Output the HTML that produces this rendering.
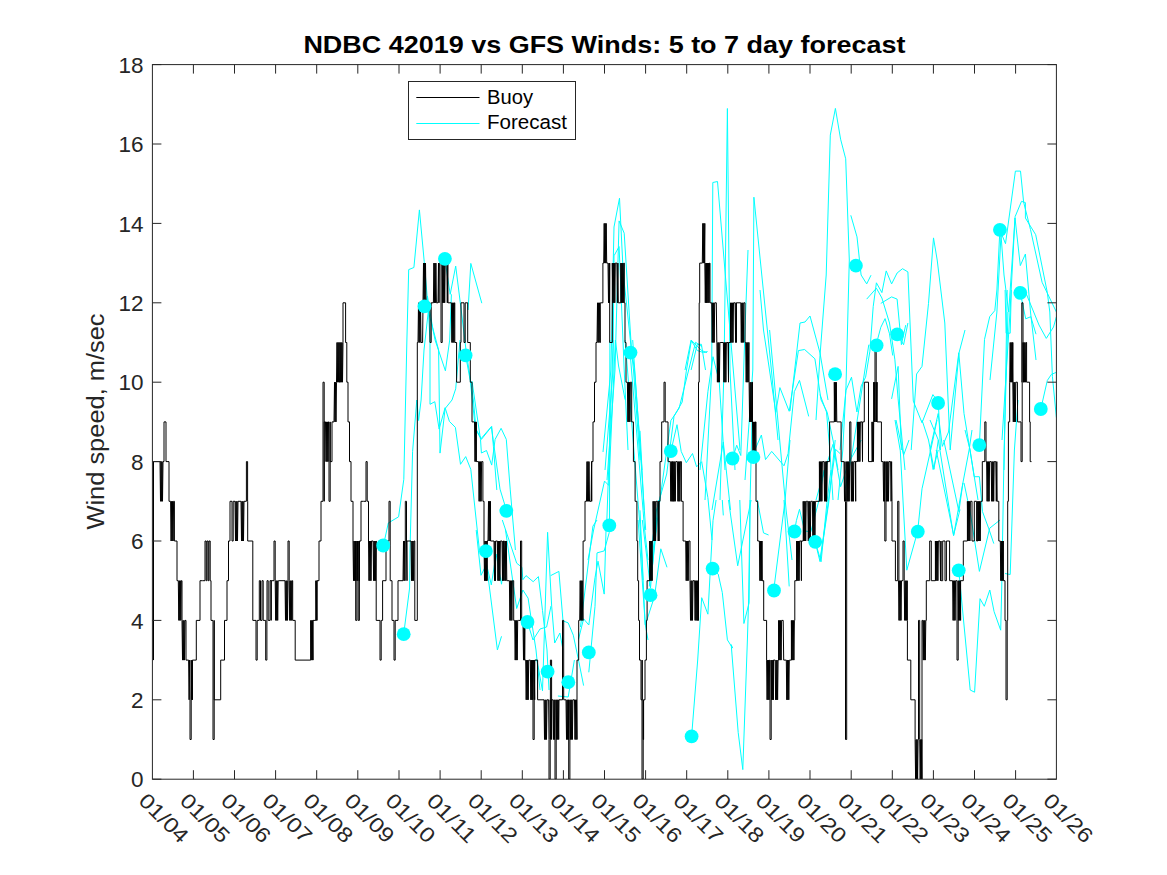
<!DOCTYPE html>
<html><head><meta charset="utf-8"><style>
html,body{margin:0;padding:0;background:#fff;}
svg{display:block;}
text{font-family:"Liberation Sans",sans-serif;}
</style></head><body>
<svg width="1167" height="875" viewBox="0 0 1167 875">
<rect width="1167" height="875" fill="#fff"/>
<defs><clipPath id="pa"><rect x="152.4" y="64.6" width="904" height="714.6"/></clipPath></defs>
<g fill="none" stroke-linejoin="miter" clip-path="url(#pa)">
<path d="M383.4 545.6L388.3 523.0L398.6 516.8L403.8 479.3L406.9 340.0L408.7 269.6L413.9 267.5L419.4 209.9L424.2 261.3L428.3 310.0L430.0 340.0L430.0 404.3L434.8 401.7L439.1 429.1L445.1 407.7L449.4 421.4L455.4 427.4L460.5 464.3L465.7 456.6L470.8 469.4L479.4 550.0M403.7 634.2L409.6 588.0L410.0 550.0L412.6 451.4L416.8 400.0L418.6 420.6L421.1 400.0L424.0 350.0L428.3 311.4L438.6 350.0L440.0 453.1L445.1 408.6L452.0 400.0L455.7 388.8L460.0 340.0M424.5 306.3L427.4 296.0L433.0 330.0L435.1 340.0L445.4 370.8L449.7 340.0L451.4 294.3M444.9 258.8L450.2 294.3L455.7 266.1L461.2 310.0L466.0 350.0L473.4 400.0L476.0 429.1L481.1 438.6L491.4 426.6L493.1 439.4L500.0 489.1L506.8 511.4M465.6 355.4L470.3 381.0L475.4 429.0L481.4 439.4L491.7 426.5L493.4 446.3L496.8 490.0M468.1 310.0L470.8 263.4L481.8 303.2M472.0 381.0L480.5 439.4L481.4 453.0L486.5 450.5L491.7 465.1L495.1 439.4L501.1 428.3L506.3 439.4L510.2 489.1L515.4 550.0M476.2 530.0L481.0 575.3L486.5 564.3L491.3 584.9L496.1 554.0L501.5 584.2L506.4 546.5M486.5 564.3L497.4 650.0L501.5 636.3M502.3 520.0L516.7 563.2L521.9 567.3L522.9 579.7L526.0 575.6L533.2 581.7L538.4 576.6L542.5 610.5L547.0 650.0L549.0 690.0M505.4 529.3L516.7 608.5L522.9 590.0L528.1 598.2L531.2 618.8L536.0 650.0L540.0 690.0M527.0 620.8L533.0 640.0L540.0 629.0L546.6 627.0L551.0 606.0M532.0 661.0L537.0 660.0L542.5 690.8L547.6 532.3L551.7 606.4L554.7 643.0L559.9 633.0L563.0 650.0M550.7 575.6L558.9 571.4L563.0 620.8L568.2 622.9L573.3 635.2L578.5 660.0L583.6 685.6M557.9 696.0L568.2 697.0L574.4 660.0M578.5 639.3L583.6 618.8L588.8 625.0L595.0 577.6L598.0 561.2L604.2 594.1L606.3 520.0M588.8 672.3L595.0 606.4L597.0 552.9L604.2 550.9L609.3 532.3M580.5 627.0L592.9 526.2L597.0 520.0M638.1 520.0L645.3 625.0L654.6 596.1L660.8 548.8L667.0 567.3M642.3 520.0L650.5 587.9L656.7 520.0M603.0 452.0L610.9 370.0L614.0 227.0L619.5 198.2L623.2 272.3L633.5 370.0L640.0 460.0M605.0 470.0L613.0 370.0L614.0 255.8L619.1 246.6L624.2 370.0L628.0 450.0M607.0 480.0L615.0 370.0L619.1 220.9L624.2 233.2L631.4 348.4L634.5 370.0L642.0 470.0M685.0 370.0L691.1 340.2L697.3 350.5L703.5 352.6L707.6 351.5M691.1 370.0L697.3 344.3L701.4 344.3L705.5 370.0M705.0 500.0L711.7 370.0L712.8 182.5L717.5 181.5L733.3 370.0L740.0 450.0M720.0 500.0L724.0 370.0L727.4 108.5L730.0 370.0L735.0 470.0M745.0 480.0L752.8 370.0L753.9 197.2L771.4 370.0L778.0 440.0M650.0 560.0L656.5 510.0L666.7 474.0L674.0 416.4L682.2 402.0L686.3 371.2L691.4 340.3L701.7 350.6L706.9 352.6M652.0 570.0L658.5 510.0L670.9 420.5L679.1 408.2L695.6 342.3L701.7 346.5M670.9 451.4L677.0 424.7L681.2 451.4L686.3 462.7L692.5 453.5L696.6 466.8L701.7 461.7L707.9 497.7L712.0 540.0M700.0 470.0L707.9 391.7L713.0 356.7L719.2 381.4L725.0 470.0M712.0 510.0L723.3 442.1L730.5 510.0M732.6 458.6L736.7 445.2L740.8 455.5L745.0 330.0L748.0 250.0M753.2 457.6L754.2 451.4L761.4 435.0L765.5 459.6L771.7 451.4L784.0 465.8L788.1 453.5L794.3 391.7L799.5 380.4L808.7 416.4M760.0 290.0L763.5 330.0L775.8 412.3L779.9 387.6L789.2 411.3L798.4 350.6L804.6 349.5L814.9 358.8L821.1 400.0L827.2 412.3L833.4 442.1L838.0 470.0M790.0 411.0L800.0 323.0L805.0 322.0L810.0 316.0L820.0 353.0L828.0 400.0M769.6 330.0L786.1 510.0L792.0 560.0M820.0 560.0L827.2 510.0L835.5 449.3L840.0 453.5M640.0 430.8L644.1 510.0M640.0 510.3L645.1 623.5L648.0 640.0M658.5 500.0L649.3 586.4M712.4 568.5L718.2 574.1L722.3 592.6L727.4 639.9L732.6 648.1L731.2 644.6L738.2 732.5L742.8 769.6L747.4 640.0L748.6 600.0L750.1 500.0L752.0 420.0M691.6 736.4L697.7 660.0L701.7 597.7L707.9 614.2L713.0 520.6L716.1 500.0M722.3 500.0L723.3 515.4M728.5 500.0L737.7 565.8L751.1 500.0M739.8 500.0L743.9 623.5L749.1 602.9L750.1 500.0M757.3 500.0L763.5 532.9L768.6 535.0M773.7 590.5L785.1 500.0L790.0 440.0M784.0 500.0L789.2 586.4M794.5 531.5L796.4 520.6L799.5 509.3L804.6 530.9L810.8 531.9L819.0 500.0L824.0 470.0M815.2 541.8L821.1 561.7L827.2 500.0L831.0 470.0M609.5 524.5L609.9 340.0M606.7 524.5L613.2 340.0M588.0 560.0L593.6 530.0L604.5 481.1L608.8 485.4L615.4 340.0L618.6 366.0L625.1 399.7M629.9 350.4L644.7 530.0L648.0 560.0M632.7 340.0L645.7 530.0M625.1 340.0L640.3 530.0L643.0 580.0M816.0 420.0L820.0 355.5L826.2 275.0L830.3 135.1L835.4 108.4L840.6 139.2L845.7 158.8L849.3 260.0L846.0 385.9L842.8 450.0L838.0 500.0M820.0 394.6L826.5 412.0L829.8 450.0L833.0 500.0M850.8 215.3L857.0 236.9L861.1 275.0L866.7 283.9L871.0 275.2M840.0 450.0L846.0 390.2L851.5 377.2L856.9 412.0L861.2 385.9L865.6 377.2L869.9 351.2L873.2 306.7L876.4 282.8L881.9 292.6L886.2 270.9L891.6 283.9L897.1 273.0L902.5 268.7L907.9 271.9L913.3 401.1L922.0 422.8L932.9 394.6L938.3 402.2M876.0 345.3L880.8 327.3L885.1 318.6L889.5 333.8L892.7 355.5M866.7 299.1L876.4 288.2L881.9 298.0L889.5 323.0L894.9 359.8L898.1 398.9L905.0 470.0M880.8 303.4L891.6 296.9L897.1 299.1L901.4 344.7L905.7 325.1M897.2 334.3L903.6 344.7L907.9 323.0M845.0 490.0L852.6 450.0L868.8 344.7M891.6 398.9L898.1 366.4L901.4 450.0M911.2 450.0L916.6 374.0L922.0 366.4L928.5 303.4L933.5 237.9L937.2 260.0L944.8 323.0L950.2 450.0L958.9 353.3L965.0 330.0M938.3 402.2L940.5 450.0M930.0 449.5L938.2 413.5L942.3 446.4L948.5 432.0L958.8 352.8L964.0 413.5L973.2 470.0L978.0 500.0M979.4 444.7L984.5 339.4L989.7 316.7L994.8 310.6L996.9 290.0L999.9 229.8L1005.5 243.7L1015.4 171.1L1020.5 171.1L1023.6 202.0L1030.5 229.6L1042.1 282.3L1056.4 312.0M1004.0 470.0L1007.2 290.0M1005.1 290.0L1006.1 333.2L1010.2 333.2L1011.3 290.0M990.0 380.0L996.9 312.0L1001.0 234.8L1004.0 275.0L1008.7 312.0L1015.1 216.7L1021.5 201.3L1025.4 202.6L1025.4 218.0L1035.7 234.7L1047.3 292.5L1049.8 312.0L1052.4 376.4L1056.4 417.6M1002.0 440.0L1010.0 312.0L1015.0 218.0L1020.3 265.6L1025.4 254.0L1030.5 312.0L1036.0 360.0M1020.3 292.8L1025.7 318.8L1030.8 316.7L1036.0 334.2M1024.7 290.0L1039.0 325.0L1046.3 338.4L1053.5 327.0L1056.4 316.7M1040.8 409.0L1047.3 380.5L1051.4 374.4L1056.4 372.3M815.2 541.8L820.0 561.6L828.7 503.0L835.2 440.0M816.0 500.0L820.0 485.6L833.0 444.3L840.6 486.7L848.2 463.9L861.2 440.0M896.0 420.0L900.3 440.0L903.6 455.2L909.0 440.0M895.0 420.0L900.3 450.9L906.8 570.2L917.7 531.2L922.0 488.8L932.9 440.0L937.0 420.0M922.0 420.0L928.5 440.0L934.0 469.3L938.3 440.0M930.0 420.0L938.3 440.0L953.5 535.5L960.0 509.5M943.7 440.0L958.9 511.6L962.9 482.9L969.1 450.0L972.0 430.0M930.0 450.0L933.1 469.5L938.2 450.0M936.2 450.0L953.7 535.4L962.9 482.9M965.0 430.0L970.1 450.0L974.2 476.7L979.4 476.7L982.5 511.7L988.6 528.2L993.8 543.6M964.0 482.9L970.1 511.7L979.4 571.4L989.7 528.2L1000.0 520.0M958.8 570.4L970.2 690.0L974.6 692.2L980.0 598.7L984.3 606.3L989.8 590.0L994.1 611.7L1000.7 630.2L1001.7 590.0L1004.1 450.0L1008.0 312.0M1005.1 573.5L1010.2 574.5L1014.4 450.0L1018.0 400.0" stroke="#00ffff" stroke-width="1"/>
<path d="M153.5 660.1L153.5 461.6L155.0 461.6L155.0 461.6L160.0 461.6L160.0 461.6L160.5 501.3L161.0 461.6L161.5 501.3L162.0 461.6L162.5 501.3L163.0 461.6L164.0 461.6L164.0 461.6L164.0 421.9L166.0 421.9L166.0 461.6L169.0 461.6L169.0 501.3L170.6 501.3L170.6 501.3L171.1 541.0L171.6 501.3L172.1 541.0L172.6 501.3L173.1 541.0L173.6 501.3L174.4 501.3L174.4 501.3L174.4 541.0L177.0 541.0L177.0 580.7L178.3 580.7L178.3 580.7L178.8 620.4L179.3 580.7L179.8 620.4L180.3 580.7L180.8 620.4L181.3 580.7L182.0 580.7L182.0 580.7L182.0 620.4L182.5 660.1L183.0 620.4L183.5 660.1L184.0 620.4L184.5 660.1L185.0 620.4L186.0 620.4L186.0 620.4L186.0 660.1L188.6 660.1L188.6 660.1L189.1 699.8L189.6 660.1L190.0 699.8L190.0 739.5L191.2 739.5L191.2 699.8L191.2 660.1L191.7 699.8L192.2 660.1L192.4 699.8L192.4 660.1L196.3 660.1L196.3 620.4L200.0 620.4L200.0 580.7L202.7 580.7L202.7 580.7L205.0 580.7L205.0 541.0L206.2 541.0L206.2 580.7L206.2 580.7L207.0 580.7L207.0 541.0L208.2 541.0L208.2 580.7L208.2 580.7L209.0 580.7L209.0 541.0L210.2 541.0L210.2 580.7L210.2 580.7L211.0 580.7L211.0 620.4L213.0 620.4L213.0 739.5L214.2 739.5L214.2 620.4L214.2 699.8L220.7 699.8L220.7 660.1L224.5 660.1L224.5 620.4L227.0 620.4L227.0 580.7L228.5 580.7L228.5 541.0L230.0 541.0L230.0 501.3L232.0 501.3L232.0 541.0L233.2 541.0L233.2 501.3L233.2 501.3L235.0 501.3L235.0 501.3L235.5 541.0L236.0 501.3L236.5 541.0L237.0 501.3L237.5 541.0L238.0 501.3L238.0 501.3L241.0 501.3L241.0 501.3L241.5 541.0L242.0 501.3L242.5 541.0L243.0 501.3L243.5 541.0L244.0 501.3L244.0 501.3L246.4 501.3L246.4 461.6L247.6 461.6L247.6 501.3L247.6 501.3L247.7 501.3L247.7 541.0L252.8 541.0L252.8 620.4L256.0 620.4L256.0 660.1L257.2 660.1L257.2 620.4L257.2 620.4L259.3 620.4L259.3 580.7L260.5 580.7L260.5 620.4L260.5 620.4L262.0 620.4L262.0 580.7L263.2 580.7L263.2 620.4L263.2 620.4L265.7 620.4L265.7 660.1L266.9 660.1L266.9 620.4L266.9 620.4L267.0 620.4L267.0 580.7L268.2 580.7L268.2 620.4L268.2 620.4L270.0 620.4L270.0 580.7L271.2 580.7L271.2 620.4L271.2 580.7L274.0 580.7L274.0 541.0L275.2 541.0L275.2 580.7L275.2 580.7L275.7 620.4L276.2 580.7L276.7 620.4L277.2 580.7L277.7 620.4L278.2 580.7L278.5 580.7L278.5 580.7L278.5 580.7L285.0 580.7L285.0 580.7L285.5 620.4L286.0 580.7L286.5 620.4L287.0 580.7L287.5 620.4L288.0 580.7L288.0 541.0L289.2 541.0L289.2 580.7L289.2 580.7L289.7 620.4L290.2 580.7L290.7 620.4L291.2 580.7L291.7 620.4L292.2 580.7L292.7 580.7L292.7 580.7L292.7 620.4L295.2 620.4L295.2 660.1L310.7 660.1L310.7 620.4L311.2 660.1L311.7 620.4L312.2 660.1L312.7 620.4L313.0 660.1L313.0 620.4L315.8 620.4L315.8 580.7L316.3 620.4L316.8 580.7L317.0 620.4L317.0 580.7L319.0 580.7L319.0 541.0L321.0 541.0L321.0 501.3L323.0 501.3L323.0 382.2L324.2 382.2L324.2 501.3L324.2 421.9L325.5 421.9L325.5 421.9L326.0 461.6L326.5 421.9L327.0 461.6L327.5 421.9L328.0 461.6L328.5 421.9L329.0 421.9L329.0 421.9L329.0 501.3L330.2 501.3L330.2 421.9L330.2 461.6L332.0 461.6L332.0 421.9L334.0 421.9L334.0 421.9L334.5 382.2L335.0 421.9L335.5 382.2L336.0 421.9L336.5 382.2L336.5 382.2L337.0 342.5L337.5 382.2L338.0 342.5L338.5 382.2L339.0 342.5L339.5 382.2L340.0 382.2L340.0 382.2L340.0 342.5L340.5 382.2L341.0 342.5L341.5 382.2L342.0 342.5L342.5 382.2L343.0 342.5L343.0 302.8L345.6 302.8L345.6 342.5L346.8 342.5L346.8 382.2L348.0 382.2L348.0 421.9L349.5 421.9L349.5 461.6L351.0 461.6L351.0 501.3L353.0 501.3L353.0 541.0L353.5 580.7L354.0 541.0L354.5 580.7L355.0 541.0L355.5 580.7L355.7 541.0L355.7 620.4L356.9 620.4L356.9 541.0L356.9 580.7L357.4 541.0L357.9 580.7L358.2 541.0L358.2 620.4L359.4 620.4L359.4 541.0L359.4 580.7L359.5 580.7L359.5 541.0L361.0 541.0L361.0 501.3L363.4 501.3L363.4 501.3L366.0 501.3L366.0 461.6L367.2 461.6L367.2 501.3L367.2 501.3L368.5 501.3L368.5 541.0L369.0 580.7L369.5 541.0L370.0 580.7L370.5 541.0L371.0 580.7L371.5 541.0L373.1 541.0L373.1 541.0L373.6 580.7L374.1 541.0L374.6 580.7L375.1 541.0L375.6 580.7L376.1 541.0L376.2 541.0L376.2 541.0L376.2 620.4L380.0 620.4L380.0 660.1L381.2 660.1L381.2 620.4L381.2 620.4L382.6 620.4L382.6 580.7L386.0 580.7L386.0 541.0L389.0 541.0L389.0 501.3L390.2 501.3L390.2 541.0L390.2 580.7L392.0 580.7L392.0 620.4L394.0 620.4L394.0 660.1L395.2 660.1L395.2 620.4L395.2 620.4L398.0 620.4L398.0 580.7L403.0 580.7L403.0 580.7L403.5 541.0L404.0 580.7L404.5 541.0L405.0 580.7L405.3 541.0L405.3 501.3L406.5 501.3L406.5 541.0L406.5 541.0L407.0 580.7L407.0 541.0L411.0 541.0L411.0 541.0L411.5 580.7L412.0 541.0L412.5 580.7L413.0 541.0L413.5 580.7L414.0 541.0L414.8 541.0L414.8 541.0L414.8 620.4L417.3 620.4L417.3 342.5L418.0 342.5L418.0 342.5L418.5 302.8L419.0 342.5L419.5 302.8L420.0 342.5L420.5 302.8L421.0 342.5L422.6 342.5L422.6 342.5L423.0 302.8L423.0 302.8L423.5 263.1L424.0 302.8L424.5 263.1L425.0 302.8L425.5 263.1L426.0 302.8L427.4 302.8L427.4 302.8L427.4 302.8L430.0 302.8L430.0 342.5L431.2 342.5L431.2 302.8L431.2 302.8L433.4 302.8L433.4 302.8L433.9 263.1L434.4 302.8L434.9 263.1L435.4 302.8L435.9 263.1L436.4 302.8L438.0 302.8L438.0 302.8L438.5 263.1L439.0 302.8L439.4 263.1L439.4 263.1L441.0 263.1L441.0 342.5L442.2 342.5L442.2 263.1L442.2 263.1L442.7 302.8L443.2 263.1L443.7 302.8L444.2 263.1L444.7 302.8L445.2 263.1L446.8 263.1L446.8 263.1L447.3 302.8L447.8 263.1L448.0 302.8L448.0 302.8L451.4 302.8L451.4 302.8L451.9 342.5L452.4 302.8L452.9 342.5L453.4 302.8L453.9 342.5L454.4 302.8L454.8 302.8L454.8 302.8L454.8 342.5L456.6 342.5L456.6 382.2L460.3 382.2L460.3 342.5L461.0 342.5L461.0 302.8L464.0 302.8L464.0 342.5L465.2 342.5L465.2 302.8L465.2 302.8L467.7 302.8L467.7 342.5L470.3 342.5L470.3 382.2L472.0 382.2L472.0 421.9L474.5 421.9L474.5 421.9L475.0 461.6L475.5 421.9L476.0 461.6L476.3 421.9L476.3 461.6L478.6 461.6L478.6 461.6L479.1 501.3L479.6 461.6L480.1 501.3L480.6 461.6L481.1 501.3L481.6 461.6L482.9 461.6L482.9 461.6L482.9 501.3L484.0 501.3L484.0 541.0L484.5 580.7L485.0 541.0L485.5 580.7L486.0 541.0L486.5 580.7L487.0 541.0L487.1 580.7L487.1 541.0L488.0 541.0L488.0 541.0L488.5 501.3L489.0 541.0L489.5 501.3L490.0 541.0L490.5 501.3L490.6 541.0L490.6 541.0L494.0 541.0L494.0 541.0L494.5 580.7L495.0 541.0L495.5 580.7L495.7 541.0L495.7 541.0L497.4 541.0L497.4 541.0L497.9 580.7L498.4 541.0L498.9 580.7L499.4 541.0L499.9 580.7L500.4 541.0L502.0 541.0L502.0 541.0L502.5 580.7L503.0 541.0L503.4 580.7L503.4 541.0L504.3 541.0L504.3 541.0L504.8 580.7L505.3 541.0L505.8 580.7L506.3 541.0L506.8 580.7L506.8 580.7L509.4 580.7L509.4 580.7L509.9 620.4L510.4 580.7L510.9 620.4L511.4 580.7L511.9 620.4L512.4 580.7L513.7 580.7L513.7 580.7L513.7 620.4L514.7 620.4L514.7 620.4L515.2 660.1L515.7 620.4L516.2 660.1L516.7 620.4L517.2 660.1L517.7 620.4L518.4 620.4L518.4 620.4L518.4 620.4L520.5 620.4L520.5 541.0L521.7 541.0L521.7 620.4L521.7 620.4L523.0 620.4L523.0 620.4L523.5 660.1L524.0 620.4L524.5 660.1L524.8 620.4L524.8 660.1L525.7 660.1L525.7 660.1L526.2 699.8L526.7 660.1L527.2 699.8L527.7 660.1L528.2 699.8L528.7 660.1L530.3 660.1L530.3 660.1L530.8 699.8L531.3 660.1L531.8 699.8L532.3 660.1L532.8 699.8L533.3 660.1L533.0 699.8L533.0 739.5L534.2 739.5L534.2 699.8L534.2 660.1L534.7 699.8L534.8 660.1L534.8 660.1L537.6 660.1L537.6 699.8L544.0 699.8L544.0 699.8L544.5 739.5L545.0 699.8L545.5 739.5L546.0 699.8L546.5 739.5L547.0 699.8L548.6 699.8L548.6 699.8L549.0 739.5L549.0 779.2L550.2 779.2L550.2 739.5L550.2 699.8L550.4 739.5L550.4 660.1L551.6 660.1L551.6 739.5L551.6 699.8L553.0 699.8L553.0 699.8L553.5 739.5L554.0 699.8L554.5 739.5L555.0 699.8L555.0 779.2L556.2 779.2L556.2 699.8L556.2 699.8L556.7 739.5L557.2 699.8L557.7 739.5L558.2 699.8L558.7 739.5L559.0 699.8L559.0 699.8L562.5 699.8L562.5 620.4L563.7 620.4L563.7 699.8L563.7 699.8L566.0 699.8L566.0 699.8L566.5 739.5L567.0 699.8L567.5 739.5L568.0 699.8L568.5 739.5L568.7 699.8L568.7 779.2L569.9 779.2L569.9 699.8L569.9 699.8L570.4 739.5L570.9 699.8L571.4 739.5L571.9 699.8L572.4 739.5L572.9 699.8L574.5 699.8L574.5 699.8L575.0 739.5L575.5 699.8L576.0 739.5L576.5 699.8L577.0 739.5L577.0 660.1L578.7 660.1L578.7 620.4L579.7 620.4L579.7 620.4L580.2 580.7L580.7 620.4L581.2 580.7L581.7 620.4L582.2 580.7L582.7 620.4L583.1 620.4L583.1 620.4L583.1 541.0L585.0 541.0L585.0 501.3L586.5 501.3L586.5 501.3L587.0 461.6L587.5 501.3L588.0 461.6L588.5 501.3L589.0 461.6L589.5 501.3L591.1 501.3L591.1 501.3L591.6 461.6L591.7 501.3L591.7 461.6L593.0 461.6L593.0 421.9L594.5 421.9L594.5 382.2L596.0 382.2L596.0 342.5L597.0 342.5L597.0 342.5L597.5 302.8L598.0 342.5L598.5 302.8L599.0 342.5L599.5 302.8L600.0 342.5L600.3 342.5L600.3 342.5L600.3 302.8L602.9 302.8L602.9 263.1L603.7 263.1L603.7 263.1L604.2 223.4L604.7 263.1L605.2 223.4L605.7 263.1L606.2 223.4L606.7 263.1L607.1 263.1L607.1 263.1L607.1 263.1L608.0 263.1L608.0 263.1L608.5 302.8L609.0 263.1L609.5 302.8L609.7 263.1L609.7 342.5L612.3 342.5L612.3 263.1L612.8 302.8L613.3 263.1L613.8 302.8L614.3 263.1L614.8 302.8L615.3 263.1L616.9 263.1L616.9 263.1L617.4 302.8L617.9 263.1L618.3 302.8L618.3 302.8L620.8 302.8L620.8 263.1L621.3 302.8L621.8 263.1L622.3 302.8L622.8 263.1L623.3 302.8L623.8 263.1L624.3 263.1L624.3 263.1L624.3 302.8L625.0 302.8L625.0 342.5L626.0 342.5L626.0 382.2L627.4 382.2L627.4 382.2L627.9 421.9L628.4 382.2L628.9 421.9L629.4 382.2L629.9 421.9L630.4 382.2L631.7 382.2L631.7 382.2L631.7 421.9L633.4 421.9L633.4 461.6L635.1 461.6L635.1 501.3L636.9 501.3L636.9 541.0L637.7 541.0L637.7 580.7L638.6 580.7L638.6 620.4L639.5 620.4L639.5 660.1L641.0 660.1L641.0 699.8L642.2 699.8L642.2 660.1L642.2 699.8L642.0 699.8L642.0 779.2L643.2 779.2L643.2 699.8L643.2 739.5L643.6 739.5L643.6 699.8L645.0 699.8L645.0 660.1L646.4 660.1L646.4 620.4L647.1 620.4L647.1 580.7L649.7 580.7L649.7 541.0L650.2 580.7L650.7 541.0L651.2 580.7L651.7 541.0L652.2 580.7L652.3 541.0L652.3 541.0L653.1 541.0L653.1 501.3L653.6 541.0L654.1 501.3L654.6 541.0L655.1 501.3L655.6 541.0L656.1 501.3L657.7 501.3L657.7 501.3L658.2 541.0L658.7 501.3L659.1 541.0L659.1 501.3L660.0 501.3L660.0 461.6L661.7 461.6L661.7 421.9L664.0 421.9L664.0 382.2L665.2 382.2L665.2 421.9L665.2 421.9L668.0 421.9L668.0 461.6L668.5 461.6L668.5 461.6L670.3 461.6L670.3 461.6L670.8 501.3L671.3 461.6L671.8 501.3L672.3 461.6L672.8 501.3L672.8 461.6L673.3 501.3L673.8 461.6L674.3 501.3L674.8 461.6L675.3 501.3L675.8 461.6L677.4 461.6L677.4 461.6L677.9 501.3L678.4 461.6L678.9 501.3L679.4 461.6L679.9 501.3L680.4 461.6L681.4 461.6L681.4 461.6L681.4 501.3L683.1 501.3L683.1 541.0L684.8 541.0L684.8 541.0L685.7 541.0L685.7 541.0L686.2 580.7L686.7 541.0L687.2 580.7L687.7 541.0L688.2 580.7L688.7 541.0L690.0 541.0L690.0 541.0L690.0 580.7L690.5 620.4L691.0 580.7L691.5 620.4L692.0 580.7L692.5 620.4L693.0 580.7L694.6 580.7L694.6 580.7L695.1 620.4L695.6 580.7L696.1 620.4L696.6 580.7L697.1 620.4L697.6 580.7L697.7 580.7L697.7 580.7L697.7 620.4L698.5 620.4L698.5 382.2L699.2 382.2L699.2 302.8L699.7 302.8L699.7 263.1L702.3 263.1L702.3 263.1L702.8 223.4L703.3 263.1L703.8 223.4L704.3 263.1L704.8 223.4L704.8 263.1L705.3 302.8L705.8 263.1L706.3 302.8L706.5 263.1L706.5 263.1L707.0 302.8L707.5 263.1L708.0 302.8L708.5 263.1L709.0 302.8L709.5 263.1L710.0 263.1L710.0 263.1L710.0 302.8L711.7 302.8L711.7 302.8L712.2 342.5L712.7 302.8L713.2 342.5L713.7 302.8L714.2 342.5L714.7 302.8L716.3 302.8L716.3 302.8L716.8 342.5L716.8 342.5L716.9 342.5L716.9 342.5L717.4 382.2L717.9 342.5L718.4 382.2L718.9 342.5L719.4 382.2L719.9 342.5L720.2 342.5L720.2 342.5L720.2 342.5L723.4 342.5L723.4 342.5L723.9 382.2L724.4 342.5L724.9 382.2L725.4 342.5L725.9 382.2L726.4 342.5L728.0 342.5L728.0 342.5L728.5 382.2L728.5 342.5L730.5 342.5L730.5 302.8L731.0 342.5L731.5 302.8L732.0 342.5L732.5 302.8L733.0 342.5L733.5 302.8L735.1 302.8L735.1 302.8L735.6 342.5L736.1 302.8L736.4 342.5L736.4 302.8L740.8 302.8L740.8 302.8L741.3 342.5L741.8 302.8L742.3 342.5L742.8 302.8L743.3 342.5L743.8 302.8L745.0 302.8L745.0 302.8L745.0 342.5L745.7 342.5L745.7 342.5L746.2 382.2L746.7 342.5L747.2 382.2L747.7 342.5L748.2 382.2L748.7 342.5L749.1 342.5L749.1 342.5L749.1 382.2L749.6 421.9L750.1 382.2L750.6 421.9L751.1 382.2L751.6 421.9L752.1 382.2L752.5 382.2L752.5 382.2L752.5 421.9L753.0 461.6L753.5 421.9L754.0 461.6L754.5 421.9L755.0 461.6L755.5 421.9L756.0 421.9L756.0 421.9L756.0 501.3L757.7 501.3L757.7 541.0L759.4 541.0L759.4 541.0L759.9 580.7L760.4 541.0L760.9 580.7L761.4 541.0L761.9 580.7L762.0 541.0L762.0 580.7L763.7 580.7L763.7 620.4L766.6 620.4L766.6 660.1L767.1 699.8L767.6 660.1L768.1 699.8L768.6 660.1L769.1 699.8L769.6 660.1L770.0 660.1L770.0 660.1L770.0 739.5L771.2 739.5L771.2 660.1L771.2 660.1L771.7 699.8L772.2 660.1L772.7 699.8L773.2 660.1L773.4 699.8L773.4 660.1L775.1 660.1L775.1 660.1L775.6 699.8L776.1 660.1L776.6 699.8L777.1 660.1L777.6 699.8L778.1 660.1L778.6 660.1L778.6 660.1L778.6 620.4L779.1 660.1L779.6 620.4L780.1 660.1L780.6 620.4L781.1 660.1L781.6 620.4L783.2 620.4L783.2 620.4L783.7 660.1L783.7 660.1L786.3 660.1L786.3 660.1L786.8 699.8L787.3 660.1L787.8 699.8L788.3 660.1L788.8 699.8L789.3 660.1L789.7 660.1L789.7 660.1L789.7 660.1L791.4 660.1L791.4 620.4L791.9 660.1L792.4 620.4L792.9 660.1L793.4 620.4L793.9 660.1L794.4 620.4L794.8 620.4L794.8 620.4L794.8 580.7L796.6 580.7L796.6 541.0L797.1 580.7L797.6 541.0L798.1 580.7L798.6 541.0L799.1 580.7L799.6 541.0L801.2 541.0L801.2 541.0L801.4 580.7L801.4 541.0L803.2 541.0L803.2 501.3L803.7 541.0L804.2 501.3L804.7 541.0L805.2 501.3L805.7 541.0L806.2 501.3L807.8 501.3L807.8 501.3L808.3 541.0L808.8 501.3L809.3 541.0L809.8 501.3L810.3 541.0L810.8 501.3L812.4 501.3L812.4 501.3L812.9 541.0L813.4 501.3L813.9 541.0L814.4 501.3L814.9 541.0L815.4 501.3L815.8 501.3L815.8 501.3L815.8 501.3L819.4 501.3L819.4 461.6L819.9 501.3L820.4 461.6L820.9 501.3L821.4 461.6L821.9 501.3L822.4 461.6L824.0 461.6L824.0 461.6L824.5 501.3L825.0 461.6L825.5 501.3L826.0 461.6L826.5 501.3L827.0 461.6L826.6 501.3L826.6 461.6L829.6 461.6L829.6 421.9L830.8 421.9L830.8 421.9L834.3 421.9L834.3 382.2L834.8 421.9L835.3 382.2L835.8 421.9L836.3 382.2L836.8 421.9L836.8 421.9L841.1 421.9L841.1 461.6L844.0 461.6L844.0 461.6L844.5 501.3L845.0 461.6L845.5 501.3L845.5 739.5L846.7 739.5L846.7 501.3L846.7 461.6L847.2 501.3L847.7 461.6L848.2 501.3L848.7 461.6L849.2 501.3L849.7 461.6L849.7 421.9L850.9 421.9L850.9 461.6L850.9 461.6L851.4 501.3L851.9 461.6L852.4 501.3L852.9 461.6L853.4 501.3L853.9 461.6L855.5 461.6L855.5 461.6L855.7 501.3L855.7 461.6L857.4 461.6L857.4 421.9L857.9 461.6L858.4 421.9L858.9 461.6L859.4 421.9L859.9 461.6L860.4 421.9L862.0 421.9L862.0 421.9L862.5 461.6L862.6 421.9L862.6 421.9L864.3 421.9L864.3 382.2L868.5 382.2L868.5 461.6L872.0 461.6L872.0 421.9L872.5 461.6L873.0 421.9L873.5 461.6L873.7 421.9L873.7 382.2L874.2 421.9L874.7 382.2L875.0 421.9L875.0 342.5L876.2 342.5L876.2 421.9L876.2 382.2L876.7 421.9L877.1 382.2L877.1 421.9L881.4 421.9L881.4 461.6L883.1 461.6L883.1 461.6L883.6 501.3L884.1 461.6L884.6 501.3L884.8 461.6L884.8 541.0L886.0 541.0L886.0 461.6L886.0 461.6L886.5 501.3L887.0 461.6L887.5 501.3L888.0 461.6L888.5 501.3L889.0 461.6L890.6 461.6L890.6 461.6L891.1 501.3L891.6 461.6L892.0 501.3L892.0 541.0L895.4 541.0L895.4 580.7L897.7 580.7L897.7 501.3L898.9 501.3L898.9 580.7L898.9 580.7L898.5 580.7L898.5 580.7L899.0 620.4L899.5 580.7L900.0 620.4L900.5 580.7L901.0 620.4L901.5 580.7L903.0 580.7L903.0 580.7L903.0 541.0L904.2 541.0L904.2 580.7L904.2 580.7L904.7 620.4L905.2 580.7L905.7 620.4L906.2 580.7L906.7 620.4L907.2 580.7L907.4 620.4L907.4 660.1L910.8 660.1L910.8 699.8L915.1 699.8L915.1 739.5L915.6 779.2L916.1 739.5L916.6 779.2L917.1 739.5L917.6 779.2L918.1 739.5L918.5 739.5L918.5 739.5L918.5 620.4L919.7 620.4L919.7 739.5L919.7 739.5L920.2 779.2L920.7 739.5L921.2 779.2L921.7 739.5L922.0 779.2L922.0 620.4L922.8 620.4L922.8 620.4L923.3 660.1L923.8 620.4L924.3 660.1L924.8 620.4L925.3 660.1L925.8 620.4L926.3 620.4L926.3 620.4L926.3 580.7L929.7 580.7L929.7 541.0L931.3 541.0L931.3 580.7L935.4 580.7L935.4 541.0L935.9 580.7L936.4 541.0L936.9 580.7L937.4 541.0L937.9 580.7L938.4 541.0L940.0 541.0L940.0 541.0L940.5 580.7L941.0 541.0L941.1 580.7L941.1 580.7L942.7 580.7L942.7 541.0L945.0 541.0L945.0 580.7L946.4 580.7L946.4 541.0L949.6 541.0L949.6 580.7L952.6 580.7L952.6 580.7L953.1 620.4L953.6 580.7L954.1 620.4L954.6 580.7L955.1 620.4L955.6 580.7L957.0 580.7L957.0 580.7L957.0 660.1L958.2 660.1L958.2 580.7L958.2 580.7L958.7 620.4L959.2 580.7L959.7 620.4L960.2 580.7L960.6 620.4L960.6 580.7L963.3 580.7L963.3 541.0L967.4 541.0L967.4 501.3L967.9 541.0L968.4 501.3L968.9 541.0L969.4 501.3L969.9 541.0L970.4 501.3L972.0 501.3L972.0 501.3L972.0 541.0L974.3 541.0L974.3 501.3L976.6 501.3L976.6 541.0L977.7 541.0L977.7 501.3L978.2 541.0L978.7 501.3L979.2 541.0L979.7 501.3L980.2 541.0L980.7 501.3L982.3 501.3L982.3 501.3L982.3 461.6L984.8 461.6L984.8 421.9L986.0 421.9L986.0 461.6L986.0 461.6L986.6 461.6L986.6 461.6L987.1 501.3L987.6 461.6L988.1 501.3L988.6 461.6L989.1 501.3L989.6 461.6L991.2 461.6L991.2 461.6L991.7 501.3L992.2 461.6L992.7 501.3L993.2 461.6L993.7 501.3L994.2 461.6L995.8 461.6L995.8 461.6L996.3 501.3L996.8 461.6L997.2 501.3L997.2 501.3L998.8 501.3L998.8 541.0L1000.3 541.0L1000.3 541.0L1000.8 580.7L1001.3 541.0L1001.8 580.7L1002.3 541.0L1002.8 580.7L1003.3 541.0L1003.4 580.7L1003.4 580.7L1005.0 580.7L1005.0 620.4L1006.0 620.4L1006.0 699.8L1007.2 699.8L1007.2 620.4L1007.2 620.4L1007.7 620.4L1007.7 501.3L1008.4 501.3L1008.4 421.9L1009.7 421.9L1009.7 382.2L1010.2 342.5L1010.7 382.2L1011.2 342.5L1011.7 382.2L1012.2 342.5L1012.7 382.2L1012.8 342.5L1012.8 382.2L1013.3 421.9L1013.8 382.2L1014.3 421.9L1014.8 382.2L1015.3 421.9L1015.8 382.2L1017.4 382.2L1017.4 382.2L1017.6 421.9L1017.6 421.9L1021.0 421.9L1021.0 461.6L1022.2 461.6L1022.2 421.9L1022.2 382.2L1021.8 382.2L1021.8 302.8L1023.0 302.8L1023.0 382.2L1023.0 342.5L1023.5 382.2L1024.0 342.5L1024.5 382.2L1025.0 342.5L1025.5 382.2L1026.0 342.5L1026.6 342.5L1026.6 342.5L1026.6 382.2L1029.6 382.2L1029.6 421.9L1030.2 421.9L1030.2 461.6L1031.5 461.6" stroke="#000" stroke-width="1"/>
</g>
<g fill="#00ffff"><circle cx="383.2" cy="545.5" r="6.9"/><circle cx="403.7" cy="634.2" r="6.9"/><circle cx="424.5" cy="306.3" r="6.9"/><circle cx="444.9" cy="258.8" r="6.9"/><circle cx="465.6" cy="355.4" r="6.9"/><circle cx="485.9" cy="551.1" r="6.9"/><circle cx="506.3" cy="510.8" r="6.9"/><circle cx="527.5" cy="622" r="6.9"/><circle cx="547.6" cy="671.7" r="6.9"/><circle cx="568.3" cy="682.2" r="6.9"/><circle cx="588.8" cy="652.4" r="6.9"/><circle cx="609.3" cy="525.4" r="6.9"/><circle cx="630.5" cy="352.6" r="6.9"/><circle cx="650.5" cy="595.2" r="6.9"/><circle cx="670.8" cy="451.1" r="6.9"/><circle cx="691.6" cy="736.4" r="6.9"/><circle cx="712.6" cy="568.6" r="6.9"/><circle cx="732.5" cy="458.5" r="6.9"/><circle cx="753.4" cy="457.1" r="6.9"/><circle cx="774" cy="590.5" r="6.9"/><circle cx="794.5" cy="531.5" r="6.9"/><circle cx="815.2" cy="541.8" r="6.9"/><circle cx="835.1" cy="374.2" r="6.9"/><circle cx="855.9" cy="265.7" r="6.9"/><circle cx="876.6" cy="345.4" r="6.9"/><circle cx="897.2" cy="334.3" r="6.9"/><circle cx="917.8" cy="531.7" r="6.9"/><circle cx="938.1" cy="403" r="6.9"/><circle cx="958.7" cy="570.3" r="6.9"/><circle cx="979.3" cy="445.1" r="6.9"/><circle cx="999.9" cy="229.8" r="6.9"/><circle cx="1020.3" cy="292.8" r="6.9"/><circle cx="1040.8" cy="409" r="6.9"/></g>
<path d="M152.4 779.2h9M1056.4 779.2h-9M152.4 699.8h9M1056.4 699.8h-9M152.4 620.4h9M1056.4 620.4h-9M152.4 541.0h9M1056.4 541.0h-9M152.4 461.6h9M1056.4 461.6h-9M152.4 382.2h9M1056.4 382.2h-9M152.4 302.8h9M1056.4 302.8h-9M152.4 223.4h9M1056.4 223.4h-9M152.4 144.0h9M1056.4 144.0h-9M152.4 64.6h9M1056.4 64.6h-9M193.4 779.2v-9M193.4 64.6v9M234.5 779.2v-9M234.5 64.6v9M275.6 779.2v-9M275.6 64.6v9M316.7 779.2v-9M316.7 64.6v9M357.8 779.2v-9M357.8 64.6v9M399.0 779.2v-9M399.0 64.6v9M440.1 779.2v-9M440.1 64.6v9M481.2 779.2v-9M481.2 64.6v9M522.3 779.2v-9M522.3 64.6v9M563.4 779.2v-9M563.4 64.6v9M604.5 779.2v-9M604.5 64.6v9M645.6 779.2v-9M645.6 64.6v9M686.7 779.2v-9M686.7 64.6v9M727.8 779.2v-9M727.8 64.6v9M768.9 779.2v-9M768.9 64.6v9M810.0 779.2v-9M810.0 64.6v9M851.2 779.2v-9M851.2 64.6v9M892.3 779.2v-9M892.3 64.6v9M933.4 779.2v-9M933.4 64.6v9M974.5 779.2v-9M974.5 64.6v9M1015.6 779.2v-9M1015.6 64.6v9" stroke="#262626" stroke-width="1" fill="none"/>
<rect x="152.4" y="64.6" width="904.0" height="714.6" fill="none" stroke="#262626" stroke-width="1"/>
<g fill="#262626" font-size="22.5"><text x="143.5" y="787.2" text-anchor="end">0</text><text x="143.5" y="707.9" text-anchor="end">2</text><text x="143.5" y="628.5" text-anchor="end">4</text><text x="143.5" y="549.0" text-anchor="end">6</text><text x="143.5" y="469.7" text-anchor="end">8</text><text x="143.5" y="390.3" text-anchor="end">10</text><text x="143.5" y="310.9" text-anchor="end">12</text><text x="143.5" y="231.5" text-anchor="end">14</text><text x="143.5" y="152.1" text-anchor="end">16</text><text x="143.5" y="72.7" text-anchor="end">18</text></g>
<g fill="#262626" font-size="21"><text transform="translate(146.8,792.8) rotate(45)" x="0" y="13" textLength="60" lengthAdjust="spacingAndGlyphs">01/04</text><text transform="translate(187.9,792.8) rotate(45)" x="0" y="13" textLength="60" lengthAdjust="spacingAndGlyphs">01/05</text><text transform="translate(229.0,792.8) rotate(45)" x="0" y="13" textLength="60" lengthAdjust="spacingAndGlyphs">01/06</text><text transform="translate(270.1,792.8) rotate(45)" x="0" y="13" textLength="60" lengthAdjust="spacingAndGlyphs">01/07</text><text transform="translate(311.2,792.8) rotate(45)" x="0" y="13" textLength="60" lengthAdjust="spacingAndGlyphs">01/08</text><text transform="translate(352.4,792.8) rotate(45)" x="0" y="13" textLength="60" lengthAdjust="spacingAndGlyphs">01/09</text><text transform="translate(393.5,792.8) rotate(45)" x="0" y="13" textLength="60" lengthAdjust="spacingAndGlyphs">01/10</text><text transform="translate(434.6,792.8) rotate(45)" x="0" y="13" textLength="60" lengthAdjust="spacingAndGlyphs">01/11</text><text transform="translate(475.7,792.8) rotate(45)" x="0" y="13" textLength="60" lengthAdjust="spacingAndGlyphs">01/12</text><text transform="translate(516.8,792.8) rotate(45)" x="0" y="13" textLength="60" lengthAdjust="spacingAndGlyphs">01/13</text><text transform="translate(557.9,792.8) rotate(45)" x="0" y="13" textLength="60" lengthAdjust="spacingAndGlyphs">01/14</text><text transform="translate(599.0,792.8) rotate(45)" x="0" y="13" textLength="60" lengthAdjust="spacingAndGlyphs">01/15</text><text transform="translate(640.1,792.8) rotate(45)" x="0" y="13" textLength="60" lengthAdjust="spacingAndGlyphs">01/16</text><text transform="translate(681.2,792.8) rotate(45)" x="0" y="13" textLength="60" lengthAdjust="spacingAndGlyphs">01/17</text><text transform="translate(722.3,792.8) rotate(45)" x="0" y="13" textLength="60" lengthAdjust="spacingAndGlyphs">01/18</text><text transform="translate(763.5,792.8) rotate(45)" x="0" y="13" textLength="60" lengthAdjust="spacingAndGlyphs">01/19</text><text transform="translate(804.6,792.8) rotate(45)" x="0" y="13" textLength="60" lengthAdjust="spacingAndGlyphs">01/20</text><text transform="translate(845.7,792.8) rotate(45)" x="0" y="13" textLength="60" lengthAdjust="spacingAndGlyphs">01/21</text><text transform="translate(886.8,792.8) rotate(45)" x="0" y="13" textLength="60" lengthAdjust="spacingAndGlyphs">01/22</text><text transform="translate(927.9,792.8) rotate(45)" x="0" y="13" textLength="60" lengthAdjust="spacingAndGlyphs">01/23</text><text transform="translate(969.0,792.8) rotate(45)" x="0" y="13" textLength="60" lengthAdjust="spacingAndGlyphs">01/24</text><text transform="translate(1010.1,792.8) rotate(45)" x="0" y="13" textLength="60" lengthAdjust="spacingAndGlyphs">01/25</text><text transform="translate(1051.2,792.8) rotate(45)" x="0" y="13" textLength="60" lengthAdjust="spacingAndGlyphs">01/26</text></g>
<text transform="translate(103.8,421.5) rotate(-90)" text-anchor="middle" fill="#262626" font-size="23" textLength="216" lengthAdjust="spacingAndGlyphs">Wind speed, m/sec</text>
<text x="604.4" y="53" text-anchor="middle" font-weight="bold" font-size="23" textLength="602" lengthAdjust="spacingAndGlyphs" fill="#000">NDBC 42019 vs GFS Winds: 5 to 7 day forecast</text>
<rect x="408.5" y="81.5" width="167" height="58" fill="#fff" stroke="#262626" stroke-width="1"/>
<path d="M416.3 97.5H479.5" stroke="#000" stroke-width="1"/>
<path d="M416.3 123.5H479.5" stroke="#00ffff" stroke-width="1"/>
<text x="487" y="104" font-size="19.3" textLength="46" lengthAdjust="spacingAndGlyphs" fill="#000">Buoy</text>
<text x="487" y="128.7" font-size="19.3" textLength="80" lengthAdjust="spacingAndGlyphs" fill="#000">Forecast</text>
</svg>
</body></html>
